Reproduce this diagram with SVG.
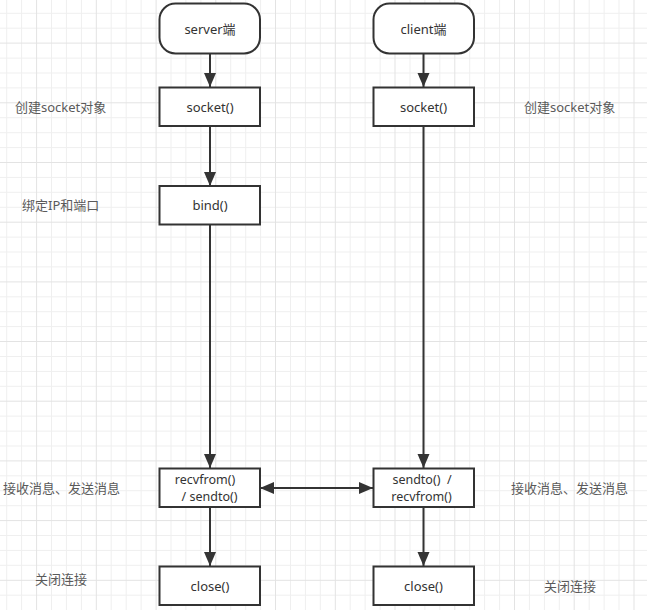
<svg xmlns="http://www.w3.org/2000/svg" width="647" height="610" viewBox="0 0 647 610">
<style>
.minor{stroke:#efefef;stroke-width:1;fill:none}
.major{stroke:#e3e3e3;stroke-width:1;fill:none}
.box{fill:#ffffff;stroke:#333333;stroke-width:2}
.t{font-family:"Noto Sans","Open Sans","Noto Sans CJK SC",sans-serif;font-size:13px;fill:#333333;text-anchor:middle;dominant-baseline:central}
.t2{font-size:12.5px}
.lbl{font-family:"Noto Sans","Open Sans","Noto Sans CJK SC",sans-serif;font-size:13px;fill:#5a5a5a;dominant-baseline:central}
.edge{stroke:#333333;stroke-width:2;fill:none}
</style>
<defs>
<marker id="ah" markerUnits="userSpaceOnUse" markerWidth="16" markerHeight="14" refX="14" refY="6" orient="auto-start-reverse" viewBox="0 0 16 12">
<path d="M0,0 L14,6 L0,12 Z" fill="#333333"/>
</marker>
</defs>
<rect width="647" height="610" fill="#ffffff"/>
<g id="grid">
<path class="minor" d="M6.7,0V610M21.6,0V610M51.5,0V610M66.4,0V610M81.4,0V610M111.2,0V610M126.2,0V610M141.1,0V610M171,0V610M185.9,0V610M200.9,0V610M230.7,0V610M245.7,0V610M260.6,0V610M290.5,0V610M305.4,0V610M320.3,0V610M350.2,0V610M365.1,0V610M380.1,0V610M410,0V610M424.9,0V610M439.8,0V610M469.7,0V610M484.6,0V610M499.6,0V610M529.4,0V610M544.4,0V610M559.3,0V610M589.2,0V610M604.1,0V610M619,0V610
M0,13.3H647M0,28.2H647M0,58.1H647M0,73H647M0,87.9H647M0,117.7H647M0,132.7H647M0,147.6H647M0,177.4H647M0,192.3H647M0,207.3H647M0,237.1H647M0,252H647M0,266.9H647M0,296.8H647M0,311.7H647M0,326.6H647M0,356.5H647M0,371.4H647M0,386.3H647M0,416.1H647M0,431.1H647M0,446H647M0,475.8H647M0,490.7H647M0,505.7H647M0,535.5H647M0,550.4H647M0,565.3H647M0,595.2H647"/>
<path class="major" d="M36.6,0V610M96.3,0V610M156.1,0V610M215.8,0V610M275.5,0V610M335.3,0V610M395,0V610M454.8,0V610M514.5,0V610M574.2,0V610M634,0V610
M0,43.1H647M0,102.8H647M0,162.5H647M0,222.2H647M0,281.9H647M0,341.5H647M0,401.2H647M0,460.9H647M0,520.6H647M0,580.3H647"/>
</g>
<g id="connectors">
<path class="edge" d="M210,53.5V87" marker-end="url(#ah)"/>
<path class="edge" d="M210,126V186" marker-end="url(#ah)"/>
<path class="edge" d="M210,224V468" marker-end="url(#ah)"/>
<path class="edge" d="M210,507V566" marker-end="url(#ah)"/>
<path class="edge" d="M423.5,53.5V87" marker-end="url(#ah)"/>
<path class="edge" d="M423.5,126V468" marker-end="url(#ah)"/>
<path class="edge" d="M423.5,507V566" marker-end="url(#ah)"/>
<path class="edge" d="M260,488H373" marker-start="url(#ah)" marker-end="url(#ah)"/>
</g>
<g id="server">
<rect class="box" x="159.5" y="3.5" width="100.5" height="50" rx="16" ry="16"/>
<text class="t" x="210" y="29">server端</text>
</g>
<g id="server-socket">
<rect class="box" x="159.5" y="87.5" width="100.5" height="38.5"/>
<text class="t" x="210" y="106.5">socket()</text>
</g>
<g id="server-bind">
<rect class="box" x="159.5" y="186" width="100.5" height="38.5"/>
<text class="t" x="210" y="205">bind()</text>
</g>
<g id="server-recv">
<rect class="box" x="159.5" y="468.5" width="100.5" height="38.5"/>
<text class="t t2" x="205" y="479.5">recvfrom()</text>
<text class="t t2" x="209.5" y="496.5">/ sendto()</text>
</g>
<g id="server-close">
<rect class="box" x="159.5" y="566.5" width="100.5" height="38.5"/>
<text class="t" x="210" y="585.5">close()</text>
</g>
<g id="client">
<rect class="box" x="373.5" y="3.5" width="100.5" height="50" rx="16" ry="16"/>
<text class="t" x="423.5" y="29">client端</text>
</g>
<g id="client-socket">
<rect class="box" x="373.5" y="87.5" width="100.5" height="38.5"/>
<text class="t" x="423.5" y="106.5">socket()</text>
</g>
<g id="client-send">
<rect class="box" x="373.5" y="468.5" width="100.5" height="38.5"/>
<text class="t t2" x="422" y="479.5" style="white-space:pre" xml:space="preserve">sendto()  /</text>
<text class="t t2" x="421.5" y="496.5">recvfrom()</text>
</g>
<g id="client-close">
<rect class="box" x="373.5" y="566.5" width="100.5" height="38.5"/>
<text class="t" x="423.5" y="585.5">close()</text>
</g>
<g id="labels">
<text class="lbl" x="15" y="106.5">创建socket对象</text>
<text class="lbl" x="22" y="205">绑定IP和端口</text>
<text class="lbl" x="3" y="488">接收消息、发送消息</text>
<text class="lbl" x="35" y="579">关闭连接</text>
<text class="lbl" x="524" y="106.5">创建socket对象</text>
<text class="lbl" x="511" y="488">接收消息、发送消息</text>
<text class="lbl" x="544" y="585.5">关闭连接</text>
</g>
</svg>
